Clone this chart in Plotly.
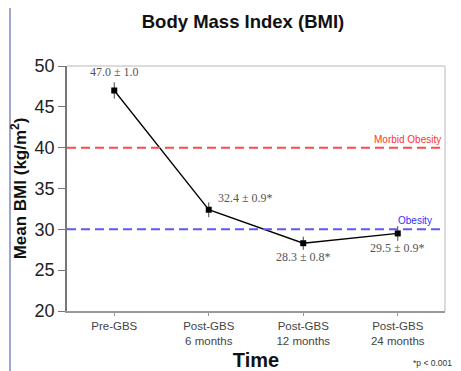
import plotly.graph_objects as go

categories = ["Pre-GBS", "Post-GBS<br>6 months", "Post-GBS<br>12 months", "Post-GBS<br>24 months"]
bmi_mean = [47.0, 32.4, 28.3, 29.5]
bmi_sem = [1.0, 0.9, 0.8, 0.9]
value_labels = ["47.0 ± 1.0", "32.4 ± 0.9*", "28.3 ± 0.8*", "29.5 ± 0.9*"]
y_ticks = [20, 25, 30, 35, 40, 45, 50]
morbid_obesity = 40
obesity = 30

x_idx = list(range(len(categories)))

# page body has an 8px default margin; size figure so it lands where the reference is
OFF = 8
W, H = 461 - OFF, 371 - OFF
PW, PH = 378, 245

fig = go.Figure()
fig.add_trace(go.Scatter(
    x=x_idx, y=bmi_mean,
    mode="lines+markers",
    line=dict(color="black", width=1.3),
    marker=dict(symbol="square", size=6, color="black"),
    error_y=dict(type="data", array=bmi_sem, visible=True, color="#444", thickness=1, width=0),
    showlegend=False,
    hoverinfo="skip",
))

# reference lines
fig.add_shape(type="line", xref="x", yref="y", x0=-0.5, x1=3.5, y0=morbid_obesity, y1=morbid_obesity,
              line=dict(color="#ff4a4a", width=2, dash="9px,5px"))
fig.add_shape(type="line", xref="x", yref="y", x0=-0.5, x1=3.5, y0=obesity, y1=obesity,
              line=dict(color="#5a5aff", width=2, dash="9px,5px"))

# plot frame top/right
fig.add_shape(type="line", xref="paper", yref="paper", x0=0, x1=1, y0=1, y1=1,
              line=dict(color="#d0d0d0", width=1.5))
fig.add_shape(type="line", xref="paper", yref="paper", x0=1, x1=1, y0=0, y1=1,
              line=dict(color="#d0d0d0", width=1.5))
# slide left border
fig.add_shape(type="line", xref="paper", yref="paper", x0=-57/PW, x1=-57/PW, y0=-60/PH, y1=1 + 60/PH,
              line=dict(color="#a0a6cc", width=2))

lab_font = dict(family="Liberation Serif, Times New Roman, serif", size=12, color="#555")
fig.add_annotation(x=0, y=bmi_mean[0] + bmi_sem[0], text=value_labels[0], showarrow=False,
                   yanchor="bottom", yshift=1, font=lab_font)
fig.add_annotation(x=1, y=bmi_mean[1], text=value_labels[1], showarrow=False,
                   xanchor="left", yanchor="middle", xshift=7, yshift=12, font=lab_font)
fig.add_annotation(x=2, y=bmi_mean[2], text=value_labels[2], showarrow=False,
                   yanchor="middle", yshift=-14, font=lab_font)
fig.add_annotation(x=3, y=bmi_mean[3], text=value_labels[3], showarrow=False,
                   yanchor="middle", yshift=-15, font=lab_font)

fig.add_annotation(x=3.48, y=morbid_obesity, text="Morbid Obesity", showarrow=False,
                   xanchor="right", yanchor="bottom", yshift=1,
                   font=dict(family="Arial, Liberation Sans, sans-serif", size=10, color="#ff3030"))
fig.add_annotation(x=3.38, y=obesity, text="Obesity", showarrow=False,
                   xanchor="right", yanchor="bottom", yshift=1,
                   font=dict(family="Arial, Liberation Sans, sans-serif", size=10, color="#3030ff"))

fig.add_annotation(xref="paper", yref="paper", x=1 + 9/PW, y=-52/PH, text="*p < 0.001",
                   showarrow=False, xanchor="right", yanchor="middle",
                   font=dict(family="Arial, Liberation Sans, sans-serif", size=8.5, color="#333"))

fig.update_layout(
    width=W, height=H,
    margin=dict(l=67 - OFF, r=16, t=66 - OFF, b=60),
    paper_bgcolor="white", plot_bgcolor="white",
    title=dict(text="<b>Body Mass Index (BMI)</b>", x=(243 - OFF) / W, xanchor="center",
               y=1 - (22 - OFF) / H, yanchor="middle",
               font=dict(family="Arial, Liberation Sans, sans-serif", size=18.5, color="#111")),
    font=dict(family="Arial, Liberation Sans, sans-serif"),
    xaxis=dict(
        tickmode="array", tickvals=x_idx, ticktext=categories,
        range=[-0.5, 3.5], showgrid=False, zeroline=False, automargin=False,
        showline=True, linecolor="#999", linewidth=1.5,
        ticks="outside", tickson="boundaries", ticklen=3, tickcolor="#999",
        tickfont=dict(size=11.5, color="#444"),
        title=dict(text="<b>Time</b>", font=dict(size=20, color="#111"), standoff=14),
    ),
    yaxis=dict(
        range=[20, 50], tickvals=y_ticks, showgrid=False, zeroline=False, automargin=False,
        showline=True, linecolor="#777", linewidth=1.5,
        ticks="outside", ticklen=7, tickcolor="#777",
        tickfont=dict(size=18, color="#222"),
        title=dict(text="<b>Mean BMI (kg/m<sup>2</sup>)</b>", font=dict(size=17, color="#111"), standoff=6),
    ),
)

fig.write_html("out.html")
